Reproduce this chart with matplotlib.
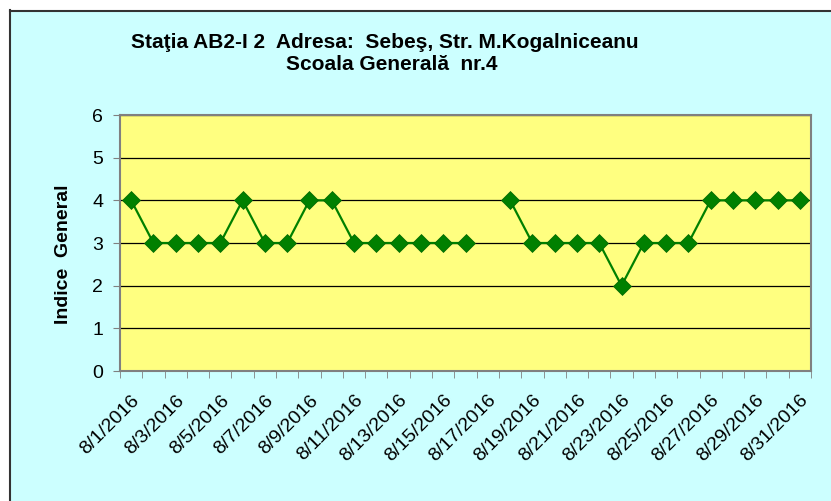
import numpy as np
import matplotlib.pyplot as plt
from matplotlib.patches import Rectangle
from matplotlib.lines import Line2D

plt.rcParams['font.family'] = ['Liberation Sans', 'DejaVu Sans']

days = [f"8/{d}/2016" for d in range(1, 32)]
values = [4, 3, 3, 3, 3, 4, 3, 3, 4, 4, 3, 3, 3, 3, 3, 3, np.nan,
          4, 3, 3, 3, 3, 2, 3, 3, 3, 4, 4, 4, 4, 4]

title_1 = "Staţia AB2-I 2  Adresa:  Sebeş, Str. M.Kogalniceanu"
title_2 = "Scoala Generală  nr.4"
ylabel = "Indice  General"

W, H = 831, 501
fig = plt.figure(figsize=(W / 100, H / 100), dpi=100, facecolor='white')

# chart area background with a dark edge on top and left only
fig.patches.append(Rectangle((9 / W, 0), 1, 1 - 10 / H, transform=fig.transFigure,
                             facecolor='#CCFFFF', edgecolor='none', zorder=-2))
fig.lines.append(Line2D([9.5 / W, 9.5 / W], [0, 1 - 10 / H], transform=fig.transFigure,
                        color='#333333', lw=1.5, zorder=-1))
fig.lines.append(Line2D([9.5 / W, 1], [1 - 10.5 / H, 1 - 10.5 / H], transform=fig.transFigure,
                        color='#333333', lw=1.5, zorder=-1))

ax = fig.add_axes([120 / W, 1 - 371 / H, 691 / W, 256 / H])
ax.set_facecolor('#FFFF80')

x = np.arange(len(days))
ax.plot(x, values, color='#008000', lw=1.6, marker='D', ms=9,
        mfc='#008000', mec='#006400', mew=0.5, zorder=3)

ax.set_xlim(-0.5, len(days) - 0.5)
ax.set_ylim(0, 6)
ax.set_yticks(range(0, 7))
ax.yaxis.grid(True, color='black', lw=0.9)
ax.set_axisbelow(True)

ax.set_xticks(x[::2])
ax.set_xticklabels(days[::2], rotation=45, ha='right', va='top',
                   rotation_mode='anchor', fontsize=14)
ax.set_xticks(np.arange(-0.5, len(days)), minor=True)
ax.tick_params(axis='x', which='major', length=0, pad=15)
ax.tick_params(axis='x', which='minor', length=5, color='#808080')
ax.tick_params(axis='y', length=5, color='#808080', labelsize=14, pad=7)

for s in ax.spines.values():
    s.set_color('#808080')
    s.set_linewidth(1.5)

ax.set_ylabel(ylabel, fontsize=14, fontweight='bold')
ax.yaxis.set_label_coords(-0.07, 0.455)

fig.text(385 / W, 1 - 42 / H, title_1, ha='center', va='center',
         fontsize=15, fontweight='bold')
fig.text(392 / W, 1 - 64 / H, title_2, ha='center', va='center',
         fontsize=15, fontweight='bold')

fig.savefig('out.png', dpi=100, facecolor=fig.get_facecolor())
